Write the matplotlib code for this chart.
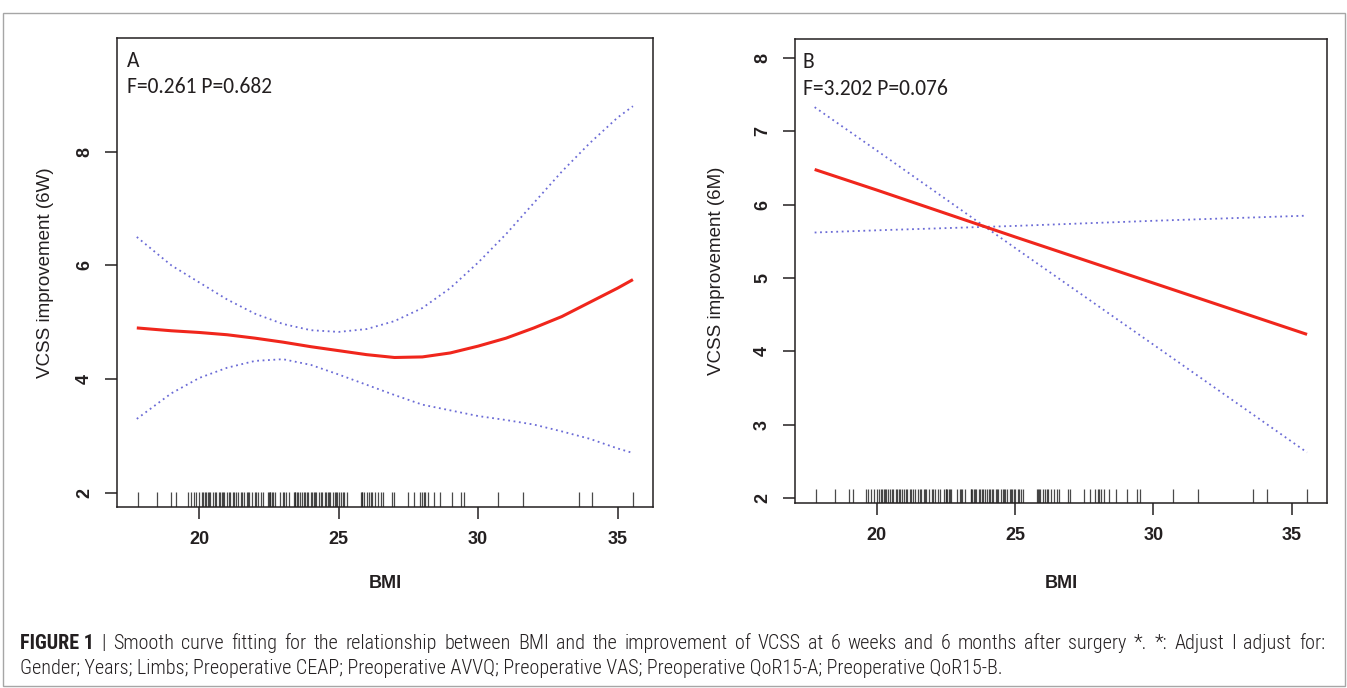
import matplotlib
matplotlib.use("Agg")
import matplotlib.pyplot as plt
from matplotlib import font_manager
from matplotlib.font_manager import FontProperties
from matplotlib.patches import Rectangle
import os

# ---------------- data ----------------
bmi_rug = [17.8, 18.5, 19.0, 19.15, 19.6, 19.7, 19.8, 19.9, 20.0,
           20.1, 20.15, 20.2, 20.25, 20.3, 20.35, 20.4, 20.5, 20.55, 20.6, 20.7, 20.75,
           20.8, 20.85, 20.9, 21.0, 21.05, 21.1, 21.2, 21.25, 21.3, 21.4, 21.5, 21.55,
           21.6, 21.7, 21.75, 21.8, 21.9, 22.0, 22.05, 22.1, 22.2, 22.3,
           22.45, 22.5, 22.52, 22.55, 22.6, 22.65, 22.7, 22.9, 23.0, 23.05, 23.1, 23.2,
           23.4, 23.42, 23.45, 23.5, 23.55, 23.6, 23.7, 23.75, 23.8, 23.85, 23.9, 24.0,
           24.05, 24.1, 24.15, 24.2, 24.3, 24.35, 24.4, 24.5, 24.55, 24.6, 24.65, 24.7,
           24.8, 24.85, 24.9, 24.95, 25.0, 25.1, 25.15, 25.2, 25.3,
           25.8, 25.82, 25.85, 25.9, 26.0, 26.1, 26.15, 26.2, 26.3, 26.4, 26.5, 26.6,
           26.9, 27.0, 27.5, 27.7, 27.9, 28.0, 28.05, 28.1, 28.2, 28.4, 28.65,
           29.05, 29.4, 29.5, 30.7, 31.6, 33.6, 34.1, 35.55]

bmi_a = [17.76, 19, 20, 21, 22, 23, 24, 25, 26, 27, 28, 29, 30, 31, 32, 33, 34, 35, 35.55]
fit_a = [4.90, 4.85, 4.82, 4.78, 4.72, 4.65, 4.57, 4.50, 4.43, 4.38, 4.39, 4.46,
         4.58, 4.72, 4.90, 5.10, 5.35, 5.60, 5.75]
upper_a = [6.50, 6.00, 5.70, 5.40, 5.15, 4.97, 4.86, 4.83, 4.88, 5.02, 5.25, 5.60,
           6.05, 6.55, 7.10, 7.65, 8.15, 8.60, 8.80]
lower_a = [3.30, 3.75, 4.02, 4.20, 4.32, 4.35, 4.25, 4.08, 3.90, 3.72, 3.55, 3.45,
           3.35, 3.28, 3.20, 3.08, 2.95, 2.78, 2.70]

bmi_b = [17.76, 20, 25, 30, 35.55]
fit_b = [6.48, 6.20, 5.56, 4.93, 4.23]
ci1_b = [7.33, 6.74, 5.41, 4.09, 2.62]
ci2_b = [5.62, 5.65, 5.71, 5.78, 5.85]

xticks = [20, 25, 30, 35]
yticks_a = [2, 4, 6, 8]
yticks_b = [2, 3, 4, 5, 6, 7, 8]

ylabel_a = "VCSS improvement (6W)"
ylabel_b = "VCSS improvement (6M)"
xlabel = "BMI"
tag_a, stat_a = "A", "F=0.261 P=0.682"
tag_b, stat_b = "B", "F=3.202 P=0.076"
cap_bold = "FIGURE 1"
cap_line1 = ("| Smooth curve fitting for the relationship between BMI and the improvement "
             "of VCSS at 6 weeks and 6 months after surgery *. *: Adjust I adjust for:")
cap_line2 = ("Gender; Years; Limbs; Preoperative CEAP; Preoperative AVVQ; Preoperative VAS; "
             "Preoperative QoR15-A; Preoperative QoR15-B.")

# ---------------- fonts ----------------
names = {f.name for f in font_manager.fontManager.ttflist}
base_font = 'Liberation Sans' if 'Liberation Sans' in names else 'DejaVu Sans'

files = font_manager.findSystemFonts()
def find(keys):
    for k in keys:
        for f in files:
            if os.path.basename(f).lower() == k.lower():
                return f
    return None
reg = find(['LiberationSansNarrow-Regular.ttf', 'RobotoCondensed-Light.ttf',
            'RobotoCondensed-Regular.ttf',
            'OpenSans-CondensedRegular.ttf', 'OpenSansCondensed-Regular.ttf'])
bld = find(['LiberationSansNarrow-Bold.ttf', 'RobotoCondensed-Bold.ttf',
            'OpenSans-CondensedBold.ttf', 'OpenSansCondensed-Bold.ttf'])
if reg:
    cap_reg = FontProperties(fname=reg)
    cap_bold_fp = FontProperties(fname=bld) if bld else FontProperties(fname=reg, weight='bold')
else:
    cap_reg = FontProperties(family=base_font)
    cap_bold_fp = FontProperties(family=base_font, weight='bold')

if 'Carlito' in names:
    ann_font, ann_size = 'Carlito', 15.5
elif 'Lato' in names:
    ann_font, ann_size = 'Lato', 14.6
else:
    ann_font, ann_size = base_font, 13

plt.rcParams['font.family'] = [base_font, 'DejaVu Sans']
INK = '#231f20'
RED = '#f0261c'
BLUE = '#6b6bd6'

W, H = 1347, 688
fig = plt.figure(figsize=(W / 100, H / 100), dpi=100)
fig.patch.set_facecolor('white')

fig.add_artist(Rectangle((3 / W, 2 / H), 1342 / W, 673 / H, transform=fig.transFigure,
                         fill=False, edgecolor='#a6a6a6', lw=1.0))

axA = fig.add_axes([117 / W, 1 - 507 / H, 536 / W, 469 / H])
axB = fig.add_axes([795 / W, 1 - 503 / H, 532 / W, 464 / H])


def style(ax, yticks, ylims, ylabel, ylab_x, xlab_y):
    ax.set_xlim(17.05, 36.27)
    ax.set_ylim(*ylims)
    ax.set_xticks(xticks)
    ax.set_yticks(yticks)
    for s in ax.spines.values():
        s.set_color(INK)
        s.set_linewidth(1.1)
    ax.tick_params(direction='out', length=8.3, width=1.1, color=INK,
                   labelsize=13, labelcolor=INK, pad=9)
    for lab in ax.get_yticklabels():
        lab.set_rotation(90)
        lab.set_va('center')
        lab.set_fontweight('bold')
    for lab in ax.get_xticklabels():
        lab.set_fontweight('bold')
    ax.set_xlabel(xlabel, fontsize=13, color=INK, fontweight='bold')
    ax.xaxis.set_label_coords(0.5, xlab_y)
    ax.xaxis.label.set_va('center')
    ax.set_ylabel(ylabel, fontsize=13.5, color=INK)
    ax.yaxis.set_label_coords(ylab_x, 0.5)
    ax.yaxis.label.set_va('center')
    ax.vlines(bmi_rug, 0, 0.031, transform=ax.get_xaxis_transform(),
              colors='#2a2a2a', lw=0.9, alpha=0.85)


style(axA, yticks_a, (1.75, 10.0), ylabel_a, -0.134, (507 - 583) / 469)
style(axB, yticks_b, (1.93, 8.26), ylabel_b, -0.147, (503 - 583) / 464)

dot = (0, (1, 2.0))
axA.plot(bmi_a, upper_a, color=BLUE, lw=1.3, ls=dot)
axA.plot(bmi_a, lower_a, color=BLUE, lw=1.3, ls=dot)
axA.plot(bmi_a, fit_a, color=RED, lw=2.2, solid_capstyle='butt')

axB.plot(bmi_b, ci1_b, color=BLUE, lw=1.3, ls=dot)
axB.plot(bmi_b, ci2_b, color=BLUE, lw=1.3, ls=dot)
axB.plot(bmi_b, fit_b, color=RED, lw=2.2, solid_capstyle='butt')

for (tag, stat, x, yb1, yb2) in [(tag_a, stat_a, 127, 67, 93), (tag_b, stat_b, 803, 68, 95)]:
    fig.text(x / W, 1 - yb1 / H, tag, family=[ann_font, 'DejaVu Sans'], fontsize=ann_size,
             color=INK, va='baseline', ha='left')
    fig.text(x / W, 1 - yb2 / H, stat, family=[ann_font, 'DejaVu Sans'], fontsize=ann_size,
             color=INK, va='baseline', ha='left')

# ---------------- caption (justified first line, common baseline) ----------------
renderer = fig.canvas.get_renderer()
x0 = 20
y1, y2 = 1 - 649 / H, 1 - 674 / H
fs = 14.0
t2 = fig.text(x0 / W, y2, cap_line2, fontproperties=cap_reg, color=INK,
              va='baseline', ha='left')
t2.set_fontsize(fs)
for _ in range(3):
    w2 = t2.get_window_extent(renderer).width
    fs = fs * 988 / w2
    t2.set_fontsize(fs)

words = [(cap_bold, cap_bold_fp)] + [(w, cap_reg) for w in cap_line1.split(' ')]
objs = []
total = 0.0
for w, fp in words:
    t = fig.text(0, y1, w, fontproperties=fp, color=INK, va='baseline', ha='left')
    t.set_fontsize(fs)
    total += t.get_window_extent(renderer).width
    objs.append(t)
gap = (1305 - total) / (len(objs) - 1)
xc = x0
for t in objs:
    t.set_x(xc / W)
    xc += t.get_window_extent(renderer).width + gap

fig.savefig("out.png", dpi=100, facecolor='white')
